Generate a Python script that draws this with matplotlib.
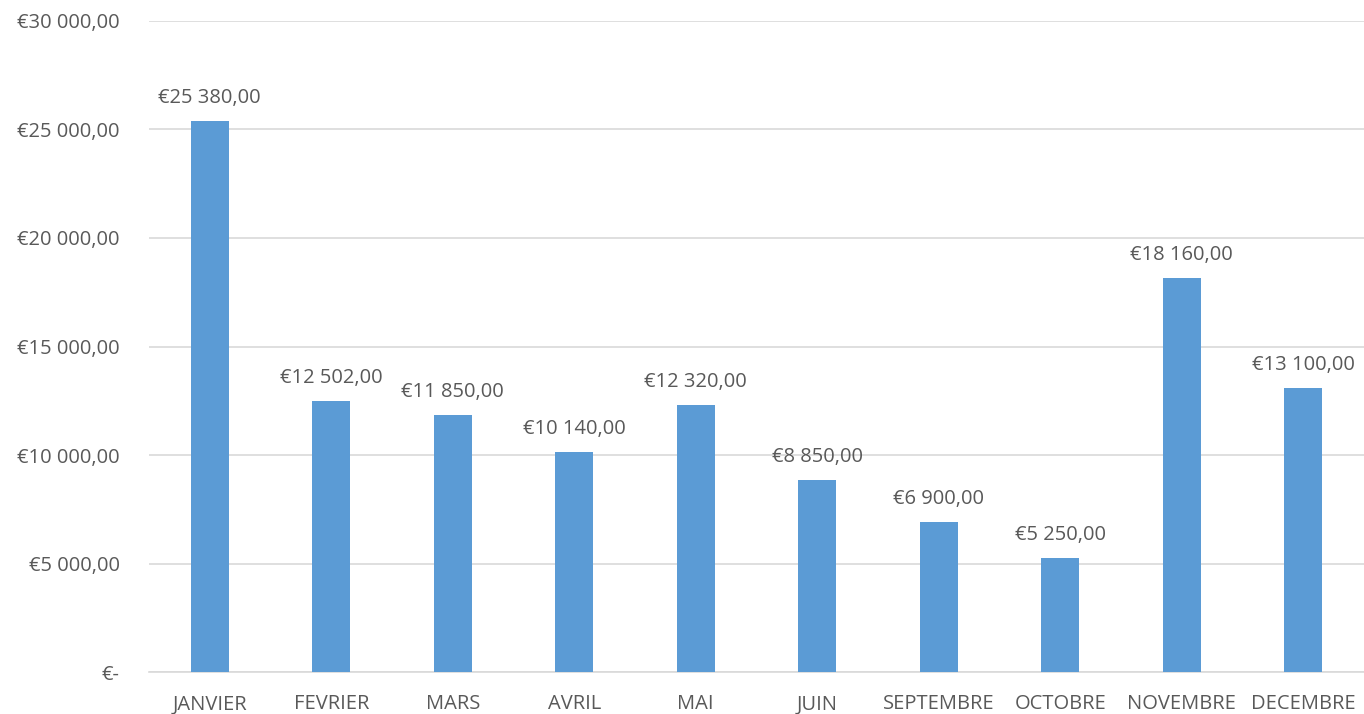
import matplotlib.pyplot as plt
from matplotlib.ticker import FuncFormatter

months = ['JANVIER', 'FEVRIER', 'MARS', 'AVRIL', 'MAI', 'JUIN',
          'SEPTEMBRE', 'OCTOBRE', 'NOVEMBRE', 'DECEMBRE']
values = [25380, 12502, 11850, 10140, 12320, 8850, 6900, 5250, 18160, 13100]

text_color = '#595959'
plt.rcParams['font.family'] = ['Open Sans', 'DejaVu Sans']


def euro(v, pos=None):
    if v == 0:
        return '€-'
    s = f'{v:,.2f}'
    s = s.replace(',', ' ').replace('.', ',')
    return '€' + s


fig = plt.figure(figsize=(13.64, 7.14), dpi=100)
ax = fig.add_axes([0.1092, 0.0588, 0.8908, 0.9118])

x = range(len(months))
bars = ax.bar(x, values, width=0.31, color='#5B9BD5', zorder=3)
for xi, v in zip(x, values):
    ax.text(xi, v + 600, euro(v), ha='center', va='bottom',
            fontsize=14.5, color=text_color)

ax.set_xlim(-0.5, len(months) - 0.5)
ax.set_ylim(0, 30000)
ax.set_yticks(range(0, 30001, 5000))
ax.yaxis.set_major_formatter(FuncFormatter(euro))
ax.set_xticks(list(x))
ax.set_xticklabels(months)
ax.tick_params(axis='both', length=0, labelsize=14.5, colors=text_color)
ax.tick_params(axis='y', pad=21)
ax.tick_params(axis='x', pad=16)
ax.grid(axis='y', color='#D9D9D9', linewidth=1.2, zorder=0)
for s in ['top', 'right', 'left']:
    ax.spines[s].set_visible(False)
ax.spines['bottom'].set_color('#D9D9D9')
ax.spines['bottom'].set_linewidth(1.2)

fig.savefig('out.png', dpi=100)
